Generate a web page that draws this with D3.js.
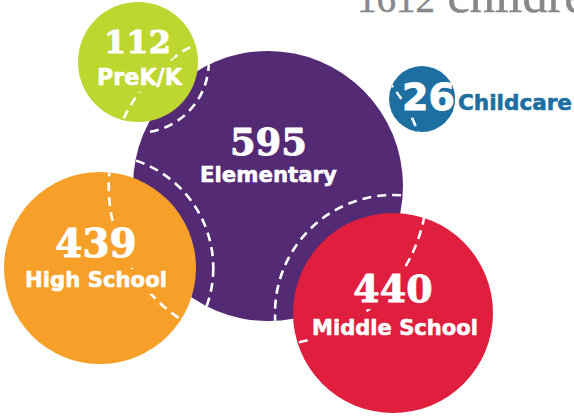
<!DOCTYPE html>
<html><head><meta charset="utf-8">
<script src="https://cdn.jsdelivr.net/npm/d3@7"></script>
<style>html,body{margin:0;padding:0;background:#fff;overflow:hidden}</style>
</head><body><svg id="c" width="574" height="417"></svg>
<script>
// ---- data ----
const categories = ["Elementary", "Middle School", "High School", "PreK/K", "Childcare"];
const values = [595, 440, 439, 112, 26];
const titleNumber = "1612";
const titleWord = "children";

// ---- styles / layout (not data) ----
const colors = ["#552a74", "#df1f3d", "#f6a02a", "#bed630", "#1c6fa0"];
const centers = [[268, 186], [393, 313], [100, 268], [138, 62], [422, 99]];
const numStyle = [
  {dx: 0.5, dy: -31, size: 37, family: "DejaVu Serif"},
  {dx: 0, dy: -11, size: 38, family: "DejaVu Serif"},
  {dx: -4, dy: -11, size: 39, family: "DejaVu Serif"},
  {dx: -0.5, dy: -9, size: 32, family: "DejaVu Serif"},
  {size: 38, family: "DejaVu Sans", anchor: "start", abs: [402, 110]}
];
const labStyle = [
  {dx: 0.5, dy: -4, size: 22, w: 137},
  {dx: 2, dy: 22, size: 22, w: 166},
  {dx: -4, dy: 19, size: 22, w: 142},
  {dx: 1.5, dy: 23, size: 22.5, w: 85},
  {size: 21.5, anchor: "start", abs: [458, 110], outside: true, w: 114}
];

const rScale = d3.scaleLinear().domain([26, 112, 439, 440, 595]).range([33, 60, 96, 100, 135]);
const ringFactor = 1.18;

const data = categories.map((c, i) => ({
  cat: c, val: values[i], color: colors[i], cx: centers[i][0], cy: centers[i][1],
  r: rScale(values[i]), num: numStyle[i], lab: labStyle[i], i
}));

const svg = d3.select("#c");
const defs = svg.append("defs");

// clip: union of all other circles
data.forEach(d => {
  const cp = defs.append("clipPath").attr("id", "others" + d.i);
  data.filter(o => o.i !== d.i).forEach(o => {
    cp.append("circle").attr("cx", o.cx).attr("cy", o.cy).attr("r", o.r);
  });
  defs.append("clipPath").attr("id", "self" + d.i)
    .append("circle").attr("cx", d.cx).attr("cy", d.cy).attr("r", d.r);
});

// title (runs off the top/right edge, as in the reference)
const title = svg.append("text").attr("x", 357).attr("y", 12)
  .attr("font-family", "Liberation Serif").attr("fill", "#87888b")
  .attr("stroke", "#87888b").attr("stroke-width", 0.5);
title.append("tspan").attr("font-size", 39).text(titleNumber);
title.append("tspan").attr("font-size", 50).text(" " + titleWord);

// circles
svg.append("g").selectAll("circle").data(data).join("circle")
  .attr("cx", d => d.cx).attr("cy", d => d.cy).attr("r", d => d.r)
  .attr("fill", d => d.color);

// dashed rings, visible only inside the other circles
svg.append("g").selectAll("circle").data(data).join("circle")
  .attr("cx", d => d.cx).attr("cy", d => d.cy).attr("r", d => d.r * ringFactor)
  .attr("fill", "none").attr("stroke", "#fff").attr("stroke-width", 2.6)
  .attr("stroke-dasharray", "9,6")
  .attr("clip-path", d => `url(#others${d.i})`);

// texts
function numPos(d) { return d.num.abs ? d.num.abs : [d.cx + d.num.dx, d.cy + d.num.dy]; }
function labPos(d) { return d.lab.abs ? d.lab.abs : [d.cx + d.lab.dx, d.cy + d.lab.dy]; }

data.forEach(d => {
  const halo = svg.append("g").attr("clip-path", `url(#self${d.i})`);
  const fg = svg.append("g");
  const np = numPos(d), lp = labPos(d);
  [halo, fg].forEach((g, k) => {
    const t = g.append("text").attr("x", np[0]).attr("y", np[1])
      .attr("text-anchor", d.num.anchor || "middle")
      .attr("font-family", d.num.family).attr("font-weight", "bold")
      .attr("font-size", d.num.size).text(d3.format("d")(d.val));
    if (k === 0) t.attr("fill", d.color).attr("stroke", d.color).attr("stroke-width", 14).attr("stroke-linejoin", "round");
    else t.attr("fill", "#fff").attr("stroke", "#fff").attr("stroke-width", 0.9).attr("stroke-linejoin", "round");
    if (!(d.lab.outside && k === 0)) {
      const l = g.append("text").attr("x", lp[0]).attr("y", lp[1])
        .attr("text-anchor", d.lab.anchor || "middle")
        .attr("font-family", "DejaVu Sans").attr("font-weight", "bold")
        .attr("font-size", d.lab.size)
        .attr("textLength", d.lab.w).attr("lengthAdjust", "spacingAndGlyphs")
        .text(d.cat);
      if (k === 0) l.attr("fill", d.color).attr("stroke", d.color).attr("stroke-width", 14).attr("stroke-linejoin", "round");
      else {
        const c = d.lab.outside ? d.color : "#fff";
        l.attr("fill", c).attr("stroke", c).attr("stroke-width", 0.6).attr("stroke-linejoin", "round");
      }
    }
  });
});
</script></body></html>
